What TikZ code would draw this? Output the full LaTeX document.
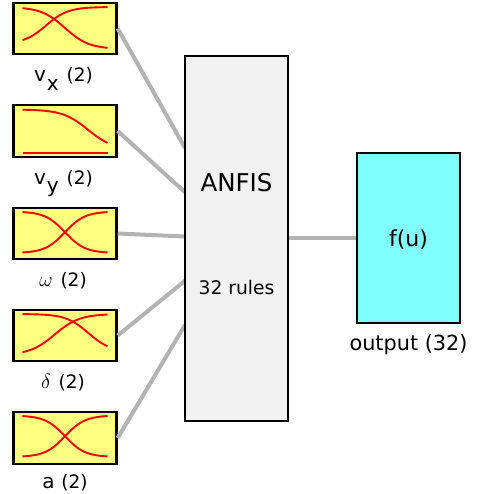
\documentclass[tikz,border=0pt]{standalone}
\usepackage{fontspec}
\usepackage{graphicx}
\setmainfont{DejaVu Sans}
\usetikzlibrary{positioning}
\definecolor{mfyellow}{HTML}{FFFF80}
\definecolor{outcyan}{HTML}{80FFFF}
\definecolor{anfisgray}{HTML}{F2F2F2}
\definecolor{linkgray}{HTML}{B3B3B3}
\tikzset{mfbox/.style={draw, line width=2.4pt, fill=mfyellow, minimum width=103pt, minimum height=51.5pt, inner sep=0pt}}
\tikzset{bigbox/.style={draw, line width=2.4pt, minimum width=103pt, inner sep=0pt}}
\tikzset{mfline/.style={red, line width=1.9pt}}
\tikzset{link/.style={linkgray, line width=4pt}}
\tikzset{lab/.style={anchor=base, inner sep=0pt, font=\fontsize{18.5}{22}\selectfont}}
\newcommand{\mfcurve}[4]{\draw[mfline] plot[samples=50, domain=22.5:107.5](\x, {#1+(#2-#1)/(1+exp(-(\x-#3)/#4))});}
\newcommand{\biglet}[1]{{\fontsize{20}{24}\selectfont #1}}

\begin{document}
\begin{tikzpicture}[x=1pt, y=-1pt]
  \useasboundingbox (0,0) rectangle (479,494);

  \foreach \n/\y in {1/28.5, 2/131, 3/233.5, 4/335.5, 5/438}{
    \coordinate (in\n) at (185,{\n*44.25+103.75});
    \node[mfbox] (mf\n) at (65,\y) {};
    \draw[link] (mf\n.east) -- (in\n);
  };
  \node[bigbox, fill=anfisgray, minimum height=365pt] (anfis) at (236.5,238.5) {};
  \node[bigbox, fill=outcyan, minimum height=170pt] (out) at (408.5,238) {};
  \draw[link] (anfis.east |- out.west) -- (out.west);

  \mfcurve{7}{49}{65}{12}
  \mfcurve{44}{7}{46}{11}

  \mfcurve{109.5}{150}{88}{12.7}
  \mfcurve{152.7}{152.7}{65}{10}

  \mfcurve{211.5}{253}{65}{10}
  \mfcurve{253}{211.5}{65}{10}

  \mfcurve{314}{352}{88.3}{11.2}
  \mfcurve{355}{314}{54.7}{12.4}

  \mfcurve{415.5}{457}{65}{10}
  \mfcurve{457}{415.5}{65}{10}

  \node[lab] (labvx) at (63.5,81.5) {\biglet{v}\hspace{1pt}\raisebox{-9pt}{\biglet{x}}\hspace{2pt} (2)};
  \node[lab] (labvy) at (63.5,184) {\biglet{v}\hspace{1pt}\raisebox{-9pt}{\biglet{y}}\hspace{2pt} (2)};
  \node[lab] (labw) at (63,286.5) {\scalebox{1.2}{$\omega$}\hspace{2pt} (2)};
  \node[lab] (labd) at (63,388) {\scalebox{1.2}{$\delta$}\hspace{2pt} (2)};
  \node[lab] (laba) at (65,488.5) {\biglet{a}\hspace{1pt} (2)};

  \node[anchor=base, inner sep=0pt, font=\fontsize{24.5}{28}\selectfont] (anfistext) at (anfis |- 0,191) {ANFIS};
  \node[anchor=base, inner sep=0pt, font=\fontsize{18.7}{22}\selectfont] (rules) at (anfis |- 0,294) {32 rules};
  \node[anchor=base, inner sep=0pt, font=\fontsize{22}{26}\selectfont] (fu) at (out |- 0,246) {f(u)};
  \node[anchor=base, inner sep=0pt, font=\fontsize{20.8}{24}\selectfont] (outlab) at (408.5,350) {output (32)};
\end{tikzpicture}
\end{document}
